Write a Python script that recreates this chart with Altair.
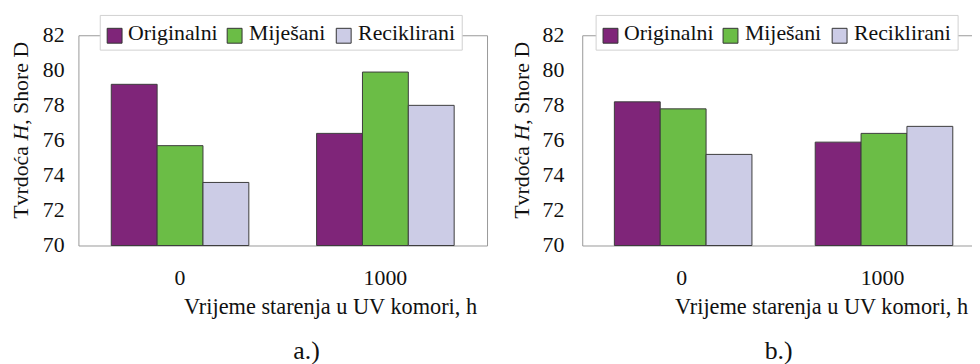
import altair as alt
import pandas as pd

groups = ["0", "1000"]
series = ["Originalni", "Miješani", "Reciklirani"]
colors = ["#7F2579", "#6BBD46", "#CCCCE6"]

panel_a_orig = [79.2, 76.4]
panel_a_mij = [75.7, 79.9]
panel_a_rec = [73.6, 78.0]

panel_b_orig = [78.2, 75.9]
panel_b_mij = [77.8, 76.4]
panel_b_rec = [75.2, 76.8]

y_ticks = [70, 72, 74, 76, 78, 80, 82]
y_title_parts = ["Tvrdoća ", "H", ", Shore D"]
x_title = "Vrijeme starenja u UV komori, h"

FONT = "Liberation Serif"
INK = "#111111"
H = 212

# legend layout (pixels relative to the legend box)
LEG_W, LEG_TOP, LEG_H = 365, -20, 35
SYM_DX = [7, 128, 238]
TXT_DX = [28, 150, 260]
SYM = 15

YSCALE = alt.Scale(domain=[70, 82], nice=False, zero=False)


def one(text, **kw):
    return alt.Chart(pd.DataFrame({"t": [text]})).mark_text(font=FONT, **kw)


def panel(orig, mij, rec, width, pad_outer, legend_x, ylab_x,
          ytitle_x, xtitle_x, caption, caption_x):
    vals = {"Originalni": orig, "Miješani": mij, "Reciklirani": rec}
    rows = [{"t": g, "s": s, "v": vals[s][i]}
            for s in series for i, g in enumerate(groups)]
    df = pd.DataFrame(rows)
    xscale = alt.Scale(paddingInner=0.33, paddingOuter=pad_outer)
    bars = alt.Chart(df).mark_bar(stroke="#3c3c3c", strokeWidth=1).encode(
        x=alt.X("t:N", sort=groups, scale=xscale,
                axis=alt.Axis(title=None, labels=False, tickBand="extent", grid=False,
                              tickSize=6, domainColor="#aaaaaa", tickColor="#bbbbbb")),
        xOffset=alt.XOffset("s:N", sort=series,
                            scale=alt.Scale(paddingInner=0, paddingOuter=0)),
        y=alt.Y("v:Q", scale=YSCALE,
                axis=alt.Axis(values=y_ticks, title=None, labels=False,
                              tickSize=6, grid=True, gridColor="#e3e3e3",
                              domainColor="#999999", tickColor="#bbbbbb")),
        y2=alt.datum(70),
        fill=alt.Fill("s:N", sort=series,
                      scale=alt.Scale(domain=series, range=colors), legend=None),
    )
    # tick labels
    ylab = alt.Chart(pd.DataFrame({"v": y_ticks})).mark_text(
        font=FONT, fontSize=22, color=INK, align="right", baseline="middle"
    ).encode(y=alt.Y("v:Q", scale=YSCALE, axis=None), x=alt.value(ylab_x),
             text=alt.Text("v:Q"))
    xlab = alt.Chart(pd.DataFrame({"t": groups})).mark_text(
        font=FONT, fontSize=22, color=INK, align="center", baseline="alphabetic"
    ).encode(x=alt.X("t:N", sort=groups, scale=xscale, axis=None),
             y=alt.value(252), text="t:N")
    # axis titles
    y0 = 185
    t1 = one(y_title_parts[0], angle=270, align="left", baseline="middle",
             fontSize=22, color=INK).encode(
        x=alt.value(ytitle_x), y=alt.value(y0), text="t:N")
    t2 = one(y_title_parts[1], angle=270, align="left", baseline="middle",
             fontSize=22, fontStyle="italic", color=INK).encode(
        x=alt.value(ytitle_x), y=alt.value(y0 - 78.8), text="t:N")
    t3 = one(y_title_parts[2], angle=270, align="left", baseline="middle",
             fontSize=22, color=INK).encode(
        x=alt.value(ytitle_x), y=alt.value(y0 - 78.8 - 15.9), text="t:N")
    xt = one(x_title, align="right", baseline="alphabetic", fontSize=22.5,
             color=INK).encode(x=alt.value(xtitle_x), y=alt.value(281), text="t:N")
    cap = one(caption, align="center", baseline="alphabetic", fontSize=26,
              color=INK).encode(x=alt.value(caption_x), y=alt.value(326), text="t:N")
    # legend
    box = alt.Chart(pd.DataFrame({"k": [0]})).mark_rect(
        fill="white", stroke="#d0d0d0", strokeWidth=1
    ).encode(x=alt.value(legend_x), x2=alt.value(legend_x + LEG_W),
             y=alt.value(LEG_TOP), y2=alt.value(LEG_TOP + LEG_H))
    leg = [box]
    for i, s in enumerate(series):
        sx = legend_x + SYM_DX[i]
        leg.append(alt.Chart(pd.DataFrame({"k": [0]})).mark_rect(
            fill=colors[i], stroke="#333333", strokeWidth=1
        ).encode(x=alt.value(sx), x2=alt.value(sx + SYM),
                 y=alt.value(LEG_TOP + 13), y2=alt.value(LEG_TOP + 13 + SYM)))
        leg.append(one(s, align="left", baseline="alphabetic", fontSize=22,
                       color=INK).encode(x=alt.value(legend_x + TXT_DX[i]),
                                         y=alt.value(LEG_TOP + 25), text="t:N"))
    return alt.layer(bars, ylab, xlab, t1, t2, t3, xt, cap, *leg).properties(
        width=width, height=H)


a = panel(panel_a_orig, panel_a_mij, panel_a_rec, 412, 0.16, 22, -14,
          -58, 402, "a.)", 230)
b = panel(panel_b_orig, panel_b_mij, panel_b_rec, 403, 0.16, 14, -18,
          -61, 389, "b.)", 198)

chart = alt.hconcat(a, b, spacing=96, bounds="flush").resolve_scale(
    fill="independent", x="independent", y="independent"
).properties(
    padding={"left": 1, "top": 5, "right": -11, "bottom": 0}
).configure(
    font=FONT
).configure_view(
    stroke="#999999", strokeWidth=1
)

chart.save("out.html", embed_options={"renderer": "svg", "actions": False})
